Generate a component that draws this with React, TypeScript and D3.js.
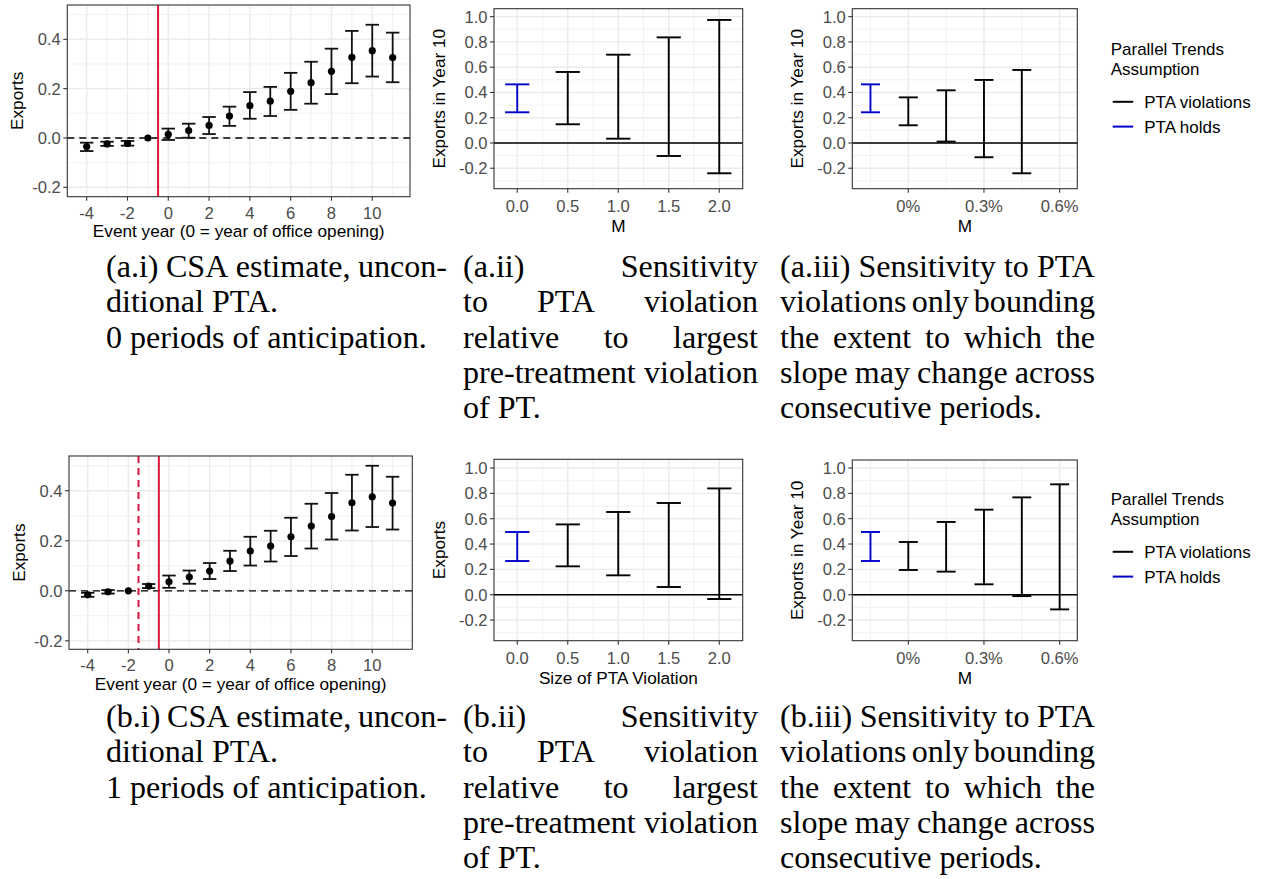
import React from 'react';
import * as d3 from 'd3';

// ---------------- DATA ----------------
const eventYears = [-4, -3, -2, -1, 0, 1, 2, 3, 4, 5, 6, 7, 8, 9, 10, 11];
const a1Est = [-0.035, -0.024, -0.022, 0, 0.015, 0.030, 0.051, 0.089, 0.131, 0.149, 0.189, 0.224, 0.270, 0.327, 0.354, 0.326];
const a1Lo = [-0.053, -0.032, -0.031, 0, -0.008, 0.001, 0.016, 0.049, 0.078, 0.089, 0.114, 0.139, 0.178, 0.222, 0.249, 0.226];
const a1Hi = [-0.019, -0.015, -0.012, 0, 0.038, 0.058, 0.085, 0.127, 0.186, 0.207, 0.264, 0.309, 0.362, 0.434, 0.459, 0.427];

const b1Est = [-0.016, -0.004, 0, 0.019, 0.036, 0.055, 0.079, 0.119, 0.159, 0.179, 0.216, 0.259, 0.297, 0.352, 0.376, 0.351];
const b1Lo = [-0.024, -0.011, 0, 0.011, 0.012, 0.028, 0.047, 0.079, 0.101, 0.117, 0.139, 0.169, 0.205, 0.241, 0.255, 0.245];
const b1Hi = [-0.008, 0.003, 0, 0.027, 0.061, 0.081, 0.111, 0.160, 0.216, 0.240, 0.292, 0.348, 0.391, 0.464, 0.500, 0.456];

const rmM = [0, 0.5, 1.0, 1.5, 2.0];
const rmType = ['holds', 'violations', 'violations', 'violations', 'violations'];
const a2Lo = [0.243, 0.148, 0.034, -0.103, -0.240];
const a2Hi = [0.464, 0.562, 0.699, 0.836, 0.974];
const b2Lo = [0.266, 0.224, 0.153, 0.061, -0.034];
const b2Hi = [0.495, 0.555, 0.653, 0.724, 0.839];

const a3M = [-0.0015, 0, 0.0015, 0.003, 0.0045];
const a3Type = ['holds', 'violations', 'violations', 'violations', 'violations'];
const a3Lo = [0.243, 0.140, 0.011, -0.113, -0.240];
const a3Hi = [0.464, 0.361, 0.417, 0.499, 0.578];

const b3M = [-0.0015, 0, 0.0015, 0.003, 0.0045, 0.006];
const b3Type = ['holds', 'violations', 'violations', 'violations', 'violations', 'violations'];
const b3Lo = [0.266, 0.195, 0.182, 0.082, -0.011, -0.116];
const b3Hi = [0.495, 0.416, 0.574, 0.671, 0.768, 0.871];

const eventTicks = [-4, -2, 0, 2, 4, 6, 8, 10];
const eventMinor = [-3, -1, 1, 3, 5, 7, 9, 11];
const esYTicks = [-0.2, 0, 0.2, 0.4];
const esYMinor = [-0.1, 0.1, 0.3, 0.5];
const sensYTicks = [-0.2, 0, 0.2, 0.4, 0.6, 0.8, 1.0];
const sensYMinor = [-0.3, -0.1, 0.1, 0.3, 0.5, 0.7, 0.9];
const rmXTicks = [0, 0.5, 1.0, 1.5, 2.0];
const rmXMinor = [0.25, 0.75, 1.25, 1.75];
const sdXTicks = [0, 0.003, 0.006];
const sdXMinor = [-0.0015, 0.0015, 0.0045];
const legendLabels = ['PTA violations', 'PTA holds'];
const legendTitle = ['Parallel Trends', 'Assumption'];

const captionA1 = [
  { words: ['(a.i)', 'CSA', 'estimate,', 'uncon-'], justify: true },
  { words: ['ditional', 'PTA.'], justify: false },
  { words: ['0', 'periods', 'of', 'anticipation.'], justify: false },
];
const captionB1 = [
  { words: ['(b.i)', 'CSA', 'estimate,', 'uncon-'], justify: true },
  { words: ['ditional', 'PTA.'], justify: false },
  { words: ['1', 'periods', 'of', 'anticipation.'], justify: false },
];
const captionA2 = [
  { words: ['(a.ii)', 'Sensitivity'], justify: true },
  { words: ['to', 'PTA', 'violation'], justify: true },
  { words: ['relative', 'to', 'largest'], justify: true },
  { words: ['pre-treatment', 'violation'], justify: true },
  { words: ['of', 'PT.'], justify: false },
];
const captionB2 = [
  { words: ['(b.ii)', 'Sensitivity'], justify: true },
  { words: ['to', 'PTA', 'violation'], justify: true },
  { words: ['relative', 'to', 'largest'], justify: true },
  { words: ['pre-treatment', 'violation'], justify: true },
  { words: ['of', 'PT.'], justify: false },
];
const captionA3 = [
  { words: ['(a.iii)', 'Sensitivity', 'to', 'PTA'], justify: true },
  { words: ['violations', 'only', 'bounding'], justify: true },
  { words: ['the', 'extent', 'to', 'which', 'the'], justify: true },
  { words: ['slope', 'may', 'change', 'across'], justify: true },
  { words: ['consecutive', 'periods.'], justify: false },
];
const captionB3 = [
  { words: ['(b.iii)', 'Sensitivity', 'to', 'PTA'], justify: true },
  { words: ['violations', 'only', 'bounding'], justify: true },
  { words: ['the', 'extent', 'to', 'which', 'the'], justify: true },
  { words: ['slope', 'may', 'change', 'across'], justify: true },
  { words: ['consecutive', 'periods.'], justify: false },
];

// ---------------- STYLE ----------------
const SANS = "'Liberation Sans', Arial, Helvetica, sans-serif";
const SERIF = "'Liberation Serif', 'Times New Roman', serif";
const GRID = '#EBEBEB';
const BORDER = '#333333';
const TICKTXT = '#4D4D4D';
const RED = '#DC143C';
const BLUE = '#0000CC';
const TICK_FS = 16.6;
const TITLE_FS = 17.2;
const LEG_FS = 17;

const hy = (s: string) => s.replace('\u2212', '-');
const fmt1 = (v: number) => hy(d3.format('.1f')(v));
const fmtPct = (v: number) => (v === 0 ? '0%' : hy(d3.format('.1%')(v)));

type Cfg = {
  x0: number; x1: number; y0: number; y1: number;
  xDomain: [number, number]; yDomain: [number, number];
  xTicks: number[]; xMinor: number[]; yTicks: number[]; yMinor: number[];
  xFmt: (v: number) => string; yFmt: (v: number) => string;
  xTitle: string; yTitle: string; yTitleX: number;
  xTickDy?: number; xTitleDy?: number;
};

function Frame({ cfg, children }: { cfg: Cfg; children: (x: any, y: any) => React.ReactNode }) {
  const x = d3.scaleLinear().domain(cfg.xDomain).range([cfg.x0, cfg.x1]);
  const y = d3.scaleLinear().domain(cfg.yDomain).range([cfg.y1, cfg.y0]);
  const inX = (v: number) => x(v) >= cfg.x0 && x(v) <= cfg.x1;
  const inY = (v: number) => y(v) >= cfg.y0 && y(v) <= cfg.y1;
  const tickDy = cfg.xTickDy ?? 23;
  const titleDy = cfg.xTitleDy ?? 43.5;
  return (
    <g>
      <rect x={cfg.x0} y={cfg.y0} width={cfg.x1 - cfg.x0} height={cfg.y1 - cfg.y0} fill="#fff" />
      {cfg.yMinor.filter(inY).map((v) => (
        <line key={'ym' + v} x1={cfg.x0} x2={cfg.x1} y1={y(v)} y2={y(v)} stroke={GRID} strokeWidth={0.7} />
      ))}
      {cfg.xMinor.filter(inX).map((v) => (
        <line key={'xm' + v} x1={x(v)} x2={x(v)} y1={cfg.y0} y2={cfg.y1} stroke={GRID} strokeWidth={0.7} />
      ))}
      {cfg.yTicks.filter(inY).map((v) => (
        <line key={'yM' + v} x1={cfg.x0} x2={cfg.x1} y1={y(v)} y2={y(v)} stroke={GRID} strokeWidth={1.4} />
      ))}
      {cfg.xTicks.filter(inX).map((v) => (
        <line key={'xM' + v} x1={x(v)} x2={x(v)} y1={cfg.y0} y2={cfg.y1} stroke={GRID} strokeWidth={1.4} />
      ))}
      {children(x, y)}
      <rect x={cfg.x0} y={cfg.y0} width={cfg.x1 - cfg.x0} height={cfg.y1 - cfg.y0} fill="none" stroke={BORDER} strokeWidth={1.1} />
      {cfg.yTicks.filter(inY).map((v) => (
        <g key={'yt' + v}>
          <line x1={cfg.x0 - 4} x2={cfg.x0} y1={y(v)} y2={y(v)} stroke={BORDER} strokeWidth={1.1} />
          <text x={cfg.x0 - 6.5} y={y(v)} dy="0.36em" textAnchor="end" fontSize={TICK_FS} fill={TICKTXT} fontFamily={SANS}>
            {cfg.yFmt(v)}
          </text>
        </g>
      ))}
      {cfg.xTicks.filter(inX).map((v) => (
        <g key={'xt' + v}>
          <line x1={x(v)} x2={x(v)} y1={cfg.y1} y2={cfg.y1 + 4} stroke={BORDER} strokeWidth={1.1} />
          <text x={x(v)} y={cfg.y1 + tickDy} textAnchor="middle" fontSize={TICK_FS} fill={TICKTXT} fontFamily={SANS}>
            {cfg.xFmt(v)}
          </text>
        </g>
      ))}
      <text x={(cfg.x0 + cfg.x1) / 2} y={cfg.y1 + titleDy} textAnchor="middle" fontSize={TITLE_FS} fill="#000" fontFamily={SANS}>
        {cfg.xTitle}
      </text>
      <text
        transform={`translate(${cfg.yTitleX},${(cfg.y0 + cfg.y1) / 2}) rotate(-90)`}
        dy="0.36em" textAnchor="middle" fontSize={TITLE_FS} fill="#000" fontFamily={SANS}
      >
        {cfg.yTitle}
      </text>
    </g>
  );
}

function EventStudy({ cfg, est, lo, hi, vlines }: { cfg: Cfg; est: number[]; lo: number[]; hi: number[]; vlines: { v: number; dashed: boolean }[] }) {
  const capHalf = 0.33;
  return (
    <Frame cfg={cfg}>
      {(x, y) => (
        <g>
          <line x1={cfg.x0} x2={cfg.x1} y1={y(0)} y2={y(0)} stroke="#000" strokeWidth={1.3} strokeDasharray="7,5" />
          {vlines.map((l, i) => (
            <line key={i} x1={x(l.v)} x2={x(l.v)} y1={cfg.y0} y2={cfg.y1} stroke={RED} strokeWidth={2}
              strokeDasharray={l.dashed ? '7,5' : undefined} />
          ))}
          {eventYears.map((t, i) =>
            lo[i] === hi[i] ? null : (
              <g key={'eb' + t} stroke="#111" strokeWidth={1.8}>
                <line x1={x(t)} x2={x(t)} y1={y(lo[i])} y2={y(hi[i])} />
                <line x1={x(t - capHalf)} x2={x(t + capHalf)} y1={y(lo[i])} y2={y(lo[i])} />
                <line x1={x(t - capHalf)} x2={x(t + capHalf)} y1={y(hi[i])} y2={y(hi[i])} />
              </g>
            )
          )}
          {eventYears.map((t, i) => (
            <circle key={'pt' + t} cx={x(t)} cy={y(est[i])} r={3.6} fill="#000" />
          ))}
        </g>
      )}
    </Frame>
  );
}

function Sensitivity({ cfg, m, lo, hi, type, capHalf }: { cfg: Cfg; m: number[]; lo: number[]; hi: number[]; type: string[]; capHalf: number }) {
  return (
    <Frame cfg={cfg}>
      {(x, y) => (
        <g>
          <line x1={cfg.x0} x2={cfg.x1} y1={y(0)} y2={y(0)} stroke="#000" strokeWidth={1.6} />
          {m.map((v, i) => (
            <g key={'eb' + i} stroke={type[i] === 'holds' ? BLUE : '#000'} strokeWidth={1.9}>
              <line x1={x(v)} x2={x(v)} y1={y(lo[i])} y2={y(hi[i])} />
              <line x1={x(v - capHalf)} x2={x(v + capHalf)} y1={y(lo[i])} y2={y(lo[i])} />
              <line x1={x(v - capHalf)} x2={x(v + capHalf)} y1={y(hi[i])} y2={y(hi[i])} />
            </g>
          ))}
        </g>
      )}
    </Frame>
  );
}

function Legend({ x, y }: { x: number; y: number }) {
  const colors = ['#000', BLUE];
  return (
    <g fontFamily={SANS} fontSize={LEG_FS}>
      <text x={x} y={y}>{legendTitle[0]}</text>
      <text x={x} y={y + 19.5}>{legendTitle[1]}</text>
      {legendLabels.map((l, i) => (
        <g key={l}>
          <line x1={x + 2} x2={x + 22.5} y1={y + 46.5 + i * 24.8} y2={y + 46.5 + i * 24.8} stroke={colors[i]} strokeWidth={2} />
          <text x={x + 33.5} y={y + 46.5 + i * 24.8} dy="0.36em">{l}</text>
        </g>
      ))}
    </g>
  );
}

let _ctx: CanvasRenderingContext2D | null = null;
function measure(text: string, size: number) {
  if (!_ctx) _ctx = document.createElement('canvas').getContext('2d');
  if (!_ctx) return text.length * size * 0.45;
  _ctx.font = `${size}px 'Liberation Serif'`;
  return _ctx.measureText(text).width;
}

function Caption({ lines, left, right, top, fs }: { lines: { words: string[]; justify: boolean }[]; left: number; right: number; top: number; fs: number }) {
  const lh = 35.4;
  const space = measure(' ', fs);
  return (
    <g fontFamily={SERIF} fontSize={fs} fill="#000">
      {lines.map((ln, li) => {
        const widths = ln.words.map((w) => measure(w, fs));
        const total = widths.reduce((a, b) => a + b, 0);
        const gap = ln.justify && ln.words.length > 1 ? (right - left - total) / (ln.words.length - 1) : space;
        let cx = left;
        return ln.words.map((w, wi) => {
          const xx = cx;
          cx += widths[wi] + gap;
          return (
            <text key={li + '-' + wi} x={xx} y={top + li * lh}>{w}</text>
          );
        });
      })}
    </g>
  );
}

export default function App() {
  const fs = 32 * 295 / measure('pre-treatment violation', 32);

  const cfgA1: Cfg = {
    x0: 67.3, x1: 410, y0: 5, y1: 196.7,
    xDomain: [-4.95, 11.85], yDomain: [-0.238, 0.539],
    xTicks: eventTicks, xMinor: eventMinor, yTicks: esYTicks, yMinor: esYMinor,
    xFmt: (v) => String(v), yFmt: fmt1,
    xTitle: 'Event year (0 = year of office opening)', yTitle: 'Exports', yTitleX: 16.7,
    xTickDy: 22, xTitleDy: 40.5,
  };
  const cfgB1: Cfg = {
    ...cfgA1, x0: 69, x1: 412.3, y0: 456, y1: 649.3,
    xDomain: [-4.92, 11.97], yDomain: [-0.234, 0.539], yTitleX: 18.3,
  };
  const cfgA2: Cfg = {
    x0: 494, x1: 742.7, y0: 8.7, y1: 188.7,
    xDomain: [-0.23, 2.232], yDomain: [-0.362, 1.063],
    xTicks: rmXTicks, xMinor: rmXMinor, yTicks: sensYTicks, yMinor: sensYMinor,
    xFmt: fmt1, yFmt: fmt1, xTitle: 'M', yTitle: 'Exports in Year 10', yTitleX: 438.3,
  };
  const cfgB2: Cfg = {
    ...cfgA2, y0: 459.3, y1: 640.7, yDomain: [-0.363, 1.069],
    xTitle: 'Size of PTA Violation', yTitle: 'Exports',
  };
  const cfgA3: Cfg = {
    x0: 852.3, x1: 1077.3, y0: 8.7, y1: 188.7,
    xDomain: [-0.00222, 0.0067], yDomain: [-0.362, 1.063],
    xTicks: sdXTicks, xMinor: sdXMinor, yTicks: sensYTicks, yMinor: sensYMinor,
    xFmt: fmtPct, yFmt: fmt1, xTitle: 'M', yTitle: 'Exports in Year 10', yTitleX: 796.7,
  };
  const cfgB3: Cfg = { ...cfgA3, y0: 460, y1: 640.7, yDomain: [-0.363, 1.063] };

  return (
    <svg width={1270} height={879} style={{ position: 'absolute', left: 0, top: 0, background: '#fff' }}>
      <rect width={1270} height={879} fill="#fff" />
      <EventStudy cfg={cfgA1} est={a1Est} lo={a1Lo} hi={a1Hi} vlines={[{ v: -0.5, dashed: false }]} />
      <Sensitivity cfg={cfgA2} m={rmM} lo={a2Lo} hi={a2Hi} type={rmType} capHalf={0.12} />
      <Sensitivity cfg={cfgA3} m={a3M} lo={a3Lo} hi={a3Hi} type={a3Type} capHalf={0.000376} />
      <Legend x={1110.7} y={55.3} />

      <EventStudy cfg={cfgB1} est={b1Est} lo={b1Lo} hi={b1Hi} vlines={[{ v: -1.5, dashed: true }, { v: -0.5, dashed: false }]} />
      <Sensitivity cfg={cfgB2} m={rmM} lo={b2Lo} hi={b2Hi} type={rmType} capHalf={0.12} />
      <Sensitivity cfg={cfgB3} m={b3M} lo={b3Lo} hi={b3Hi} type={b3Type} capHalf={0.000376} />
      <Legend x={1110.7} y={505.3} />

      <Caption lines={captionA1} left={106} right={447} top={276.7} fs={fs} />
      <Caption lines={captionA2} left={463} right={758} top={276.7} fs={fs} />
      <Caption lines={captionA3} left={780} right={1095} top={276.7} fs={fs} />
      <Caption lines={captionB1} left={106} right={447} top={726.7} fs={fs} />
      <Caption lines={captionB2} left={463} right={758} top={726.7} fs={fs} />
      <Caption lines={captionB3} left={780} right={1095} top={726.7} fs={fs} />
    </svg>
  );
}
